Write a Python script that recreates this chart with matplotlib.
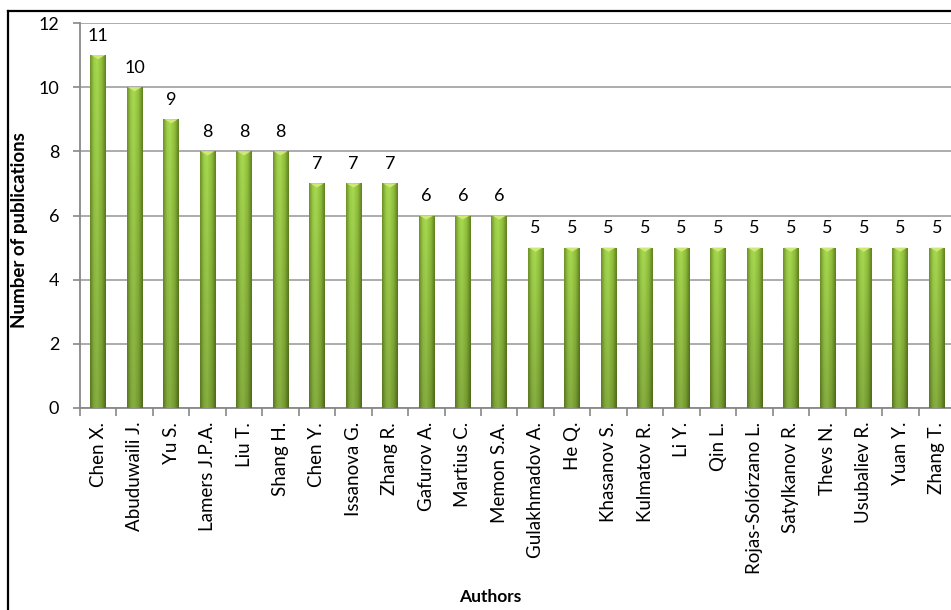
import numpy as np
import matplotlib.pyplot as plt
from matplotlib.colors import LinearSegmentedColormap
from matplotlib.patches import Polygon
from matplotlib.lines import Line2D

authors = ['Chen X.', 'Abuduwaili J.', 'Yu S.', 'Lamers J.P.A.', 'Liu T.', 'Shang H.',
           'Chen Y.', 'Issanova G.', 'Zhang R.', 'Gafurov A.', 'Martius C.', 'Memon S.A.',
           'Gulakhmadov A.', 'He Q.', 'Khasanov S.', 'Kulmatov R.', 'Li Y.', 'Qin L.',
           'Rojas-Solórzano L.', 'Satylkanov R.', 'Thevs N.', 'Usubaliev R.', 'Yuan Y.', 'Zhang T.']
pubs = [11, 10, 9, 8, 8, 8, 7, 7, 7, 6, 6, 6,
        5, 5, 5, 5, 5, 5, 5, 5, 5, 5, 5, 5]

plt.rcParams['font.family'] = ['Lato', 'DejaVu Sans']

fig = plt.figure(figsize=(9.51, 6.10), dpi=100)
ax = fig.add_axes([80 / 951, 1 - 408 / 610, 875 / 951, 385 / 610])

x = np.arange(len(authors))
bw = 0.43
bars = ax.bar(x, pubs, width=bw, color='#8DB83C', edgecolor='none', zorder=2)

# cylinder-ish shading: dark edges, light centre, brighter toward the top
shade = LinearSegmentedColormap.from_list(
    'bar', [(0.0, '#6A8A26'), (0.25, '#96C646'), (0.45, '#A0CF4D'),
            (0.75, '#88B438'), (1.0, '#5B7A1E')])
h = shade(np.linspace(0, 1, 64))[:, :3]
v = np.linspace(0.84, 1.05, 128)[:, None, None]
grad = np.clip(h[None, :, :] * v, 0, 1)

for b in bars:
    bx, by = b.get_x(), b.get_y()
    im = ax.imshow(grad, extent=[bx, bx + b.get_width(), by, by + b.get_height()],
                   origin='lower', aspect='auto', zorder=3, interpolation='bilinear')
    im.set_clip_path(b)
    # small light cap on top of each bar
    cap = 0.13
    ax.add_patch(Polygon([[bx + 0.03, b.get_height()],
                          [bx + b.get_width() - 0.03, b.get_height()],
                          [bx + b.get_width() / 2, b.get_height() - cap]],
                         closed=True, facecolor='#CFE978', edgecolor='none', zorder=4))
    ax.annotate(f'{b.get_height():.0f}', (bx + b.get_width() / 2, b.get_height()),
                xytext=(0, 8), textcoords='offset points', ha='center', va='bottom',
                fontsize=13, color='black')

ax.set_xlim(-0.5, len(authors) - 0.5)
ax.set_ylim(0, 12)
ax.set_yticks(range(0, 13, 2))
ax.set_xticks(x)
ax.set_xticklabels(authors, rotation=90, fontsize=13.5)
ax.set_xticks(np.arange(-0.5, len(authors), 1), minor=True)
ax.tick_params(axis='x', which='major', length=0, pad=10)
ax.tick_params(axis='x', which='minor', length=6, color='#888888', width=1.2)
ax.tick_params(axis='y', length=5, color='#888888', width=1.2, labelsize=13, pad=10)

ax.grid(axis='y', color='#A6A6A6', linewidth=1.3, zorder=0)
ax.set_axisbelow(True)
for s in ['top', 'right']:
    ax.spines[s].set_visible(False)
for s in ['left', 'bottom']:
    ax.spines[s].set_color('#888888')
    ax.spines[s].set_linewidth(1.3)

fig.text(20 / 951, 1 - 230 / 610, 'Number of publications', fontsize=13.5,
         fontweight='bold', rotation=90, ha='center', va='center')
fig.text(490 / 951, 1 - 597 / 610, 'Authors', fontsize=12.5, fontweight='bold',
         ha='center', va='center')

# outer frame (left and top edges)
fig.add_artist(Line2D([7.5 / 951, 7.5 / 951], [0, 1 - 10.5 / 610], color='black', linewidth=1.6))
fig.add_artist(Line2D([7.5 / 951, 1], [1 - 10.5 / 610, 1 - 10.5 / 610], color='black', linewidth=1.6))

fig.savefig('out.png', dpi=100)
